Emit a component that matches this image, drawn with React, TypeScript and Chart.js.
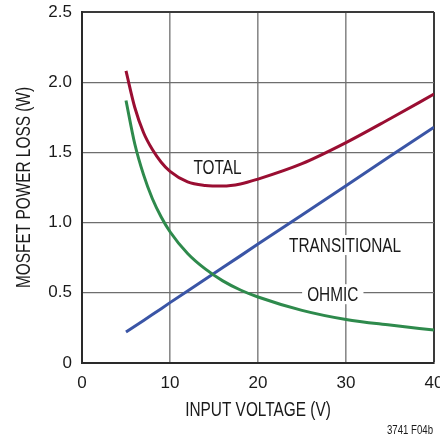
import React, { useEffect, useRef } from "react";
import { Chart, registerables } from "chart.js";

Chart.register(...registerables);

const voltage = [5, 6, 7, 8, 9, 10, 12, 14, 16, 18, 20, 25, 30, 35, 40];
const totalLoss = [2.08, 1.82, 1.64, 1.52, 1.43, 1.365, 1.29, 1.265, 1.26, 1.275, 1.31, 1.42, 1.57, 1.74, 1.915];
const transitionalLoss = [0.22, 0.262, 0.303, 0.345, 0.387, 0.43, 0.513, 0.597, 0.68, 0.763, 0.847, 1.055, 1.263, 1.472, 1.68];
const ohmicLoss = [1.87, 1.56, 1.34, 1.17, 1.04, 0.935, 0.78, 0.67, 0.585, 0.52, 0.47, 0.375, 0.31, 0.27, 0.235];

const xTicks = [0, 10, 20, 30, 40];
const yTicks = [0, 0.5, 1.0, 1.5, 2.0, 2.5];

const curveLabels = ["TOTAL", "TRANSITIONAL", "OHMIC"];
const curveLabelX = [15.4, 29.9, 28.5];
const curveLabelY = [1.39, 0.84, 0.49];

const xTitle = "INPUT VOLTAGE (V)";
const yTitle = "MOSFET POWER LOSS (W)";
const footnote = "3741 F04b";

const FONT = "'Liberation Sans', Arial, Helvetica, sans-serif";
const SQUEEZE = 0.77;
const TEXT = "#1a1a1a";

function narrowText(ctx: any, t: string, x: number, y: number, rot = 0) {
  ctx.save();
  ctx.translate(x, y);
  if (rot) ctx.rotate(rot);
  ctx.scale(SQUEEZE, 1);
  ctx.fillText(t, 0, 0);
  ctx.restore();
}

const labelPlugin = {
  id: "curveLabels",
  afterDatasetsDraw(chart: any) {
    const { ctx, scales, chartArea } = chart;
    ctx.save();
    ctx.font = `20px ${FONT}`;
    ctx.textAlign = "center";
    ctx.textBaseline = "middle";
    curveLabels.forEach((t, i) => {
      const px = scales.x.getPixelForValue(curveLabelX[i]);
      const py = scales.y.getPixelForValue(curveLabelY[i]);
      const w = ctx.measureText(t).width * SQUEEZE;
      ctx.fillStyle = "#ffffff";
      ctx.fillRect(px - w / 2 - 5, py - 10, w + 10, 20);
      ctx.fillStyle = TEXT;
      narrowText(ctx, t, px, py + 1);
    });
    ctx.fillStyle = TEXT;
    narrowText(ctx, xTitle, (chartArea.left + chartArea.right) / 2, chartArea.bottom + 47);
    narrowText(ctx, yTitle, 24, (chartArea.top + chartArea.bottom) / 2, -Math.PI / 2);
    ctx.font = `12.5px ${FONT}`;
    ctx.textAlign = "right";
    ctx.save();
    ctx.translate(chart.width - 7, chart.height - 6);
    ctx.scale(SQUEEZE, 1);
    ctx.fillText(footnote, 0, 0);
    ctx.restore();
    ctx.restore();
  },
};

export default function App() {
  const ref = useRef<HTMLCanvasElement>(null);
  useEffect(() => {
    document.body.style.margin = "0";
    const toPts = (ys: number[]) => voltage.map((v, i) => ({ x: v, y: ys[i] }));
    const ds = (label: string, ys: number[], color: string, smooth: boolean) => ({
      label,
      data: toPts(ys),
      borderColor: color,
      borderWidth: 3,
      pointRadius: 0,
      fill: false,
      tension: 0,
      ...(smooth ? { cubicInterpolationMode: "monotone" as const } : {}),
    });
    const chart = new Chart(ref.current!, {
      type: "line",
      data: {
        datasets: [
          ds("OHMIC", ohmicLoss, "#2e8a4c", true),
          ds("TRANSITIONAL", transitionalLoss, "#3a55a6", false),
          ds("TOTAL", totalLoss, "#9a0e32", true),
        ],
      },
      options: {
        animation: false,
        responsive: false,
        layout: { padding: { left: 0, right: 6, top: 12, bottom: 0 } },
        plugins: { legend: { display: false }, tooltip: { enabled: false } },
        scales: {
          x: {
            type: "linear",
            min: xTicks[0],
            max: xTicks[xTicks.length - 1],
            afterBuildTicks: (s: any) => {
              s.ticks = xTicks.map((v) => ({ value: v }));
            },
            ticks: { padding: 10, color: TEXT, font: { family: FONT, size: 17 }, maxRotation: 0 },
            grid: {
              color: (c: any) => (c.tick && c.tick.value === 40 ? "#3a3a3a" : "#8a8a8a"),
              lineWidth: (c: any) => (c.tick && c.tick.value === 40 ? 2 : 1.6),
              drawTicks: false,
            },
            border: { color: "#2a2a2a", width: 2 },
            afterFit: (s: any) => {
              s.height = 74;
              s.paddingLeft = 0;
              s.paddingRight = 0;
            },
          },
          y: {
            min: yTicks[0],
            max: yTicks[yTicks.length - 1],
            afterBuildTicks: (s: any) => {
              s.ticks = yTicks.map((v) => ({ value: v }));
            },
            ticks: {
              padding: 10,
              color: TEXT,
              font: { family: FONT, size: 17 },
              callback: (v: any) => (Number(v) === 0 ? "0" : Number(v).toFixed(1)),
            },
            grid: {
              color: (c: any) => (c.tick && c.tick.value === 2.5 ? "#3a3a3a" : "#6e6e6e"),
              lineWidth: (c: any) => (c.tick && c.tick.value === 2.5 ? 2 : 1.3),
              drawTicks: false,
            },
            border: { color: "#2a2a2a", width: 2 },
            afterFit: (s: any) => {
              s.width = 82;
              s.paddingTop = 0;
              s.paddingBottom = 0;
            },
          },
        },
      },
      plugins: [labelPlugin],
    });
    return () => chart.destroy();
  }, []);
  return <canvas ref={ref} width={440} height={437} style={{ display: "block" }} />;
}
